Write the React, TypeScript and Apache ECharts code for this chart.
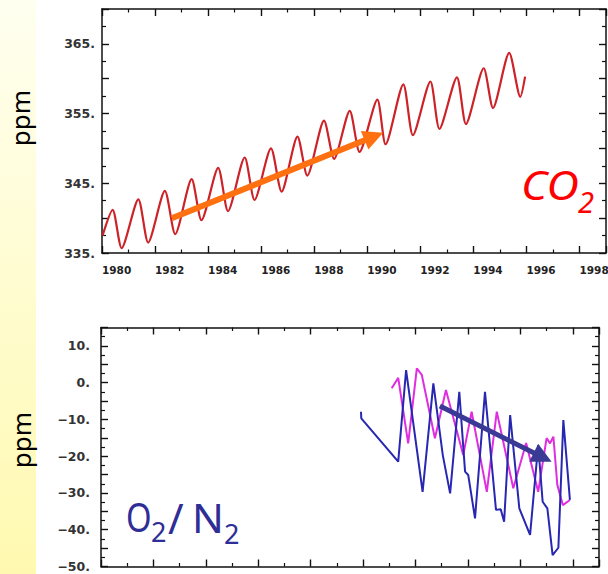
import React, { useEffect, useRef } from 'react';
import * as echarts from 'echarts';

// Monthly-extreme readings of the CO2 record (decimal year, ppm)
const co2Years = [
  1980.02, 1980.4, 1980.74, 1981.37, 1981.74, 1982.37, 1982.76, 1983.38, 1983.75,
  1984.38, 1984.75, 1985.38, 1985.75, 1986.37, 1986.77, 1987.37, 1987.74, 1988.37,
  1988.75, 1989.34, 1989.71, 1990.38, 1990.69, 1991.36, 1991.72, 1992.38, 1992.72,
  1993.38, 1993.72, 1994.39, 1994.74, 1995.35, 1995.77, 1995.95,
];
const co2Ppm = [
  337.5, 341.2, 335.7, 342.7, 336.5, 343.9, 337.7, 345.6, 339.7,
  347.2, 341.0, 348.7, 342.6, 350.0, 343.8, 351.7, 346.1, 354.0,
  348.5, 355.4, 349.5, 357.0, 350.6, 359.2, 351.9, 359.6, 352.8,
  360.2, 353.5, 361.5, 355.8, 363.7, 357.4, 360.3,
];

// O2/N2 record, first station (decimal year, value)
const o2YearsA = [
  1989.92, 1989.93, 1991.34, 1991.64, 1992.27, 1992.68, 1993.04, 1993.32, 1993.67,
  1993.89, 1994.01, 1994.27, 1994.65, 1995.07, 1995.25, 1995.38, 1995.61, 1995.96,
  1996.37, 1996.68, 1996.85, 1997.03, 1997.23, 1997.45, 1997.64, 1997.89,
];
const o2ValuesA = [
  -7.9, -9.7, -21.5, 3.4, -29.7, -0.2, -19.7, -30.1, -2.5,
  -24.2, -25.1, -36.9, -2.5, -34.6, -34.4, -37.8, -8.8, -34.2,
  -41.4, -17.0, -32.4, -34.2, -46.9, -44.9, -10.2, -31.9,
];

// O2/N2 record, second station
const o2YearsB = [
  1991.09, 1991.34, 1991.72, 1992.05, 1992.24, 1992.74, 1993.16, 1993.82, 1994.14,
  1994.72, 1995.1, 1995.73, 1996.22, 1996.68, 1997.0, 1997.13, 1997.26, 1997.41,
  1997.62, 1997.89,
];
const o2ValuesB = [
  -1.5, 1.3, -16.5, 3.9, 2.1, -15.1, -2.0, -19.7, -7.9,
  -29.7, -7.9, -28.7, -16.4, -29.7, -15.1, -16.5, -14.7, -27.8,
  -33.3, -31.9,
];

// Trend arrows (start, end) in data units
const co2TrendStart = [1982.63, 339.98];
const co2TrendEnd = [1990.25, 351.72];
const o2TrendStart = [1992.93, -6.35];
const o2TrendEnd = [1996.85, -20.28];

// Tick labels
const yearLabels = [1980, 1982, 1984, 1986, 1988, 1990, 1992, 1994, 1996, 1998];
const co2Labels = [335, 345, 355, 365];
const o2Labels = [-50, -40, -30, -20, -10, 0, 10];

const INK = '#111111';

const numLabel = (v: number) => (v < 0 ? '\u2212' + Math.abs(v) + '.' : v + '.');

function yearAxis(gridIndex: number, position: string, withLabels: boolean) {
  return {
    type: 'value',
    gridIndex,
    position,
    min: 1980,
    max: 1999,
    interval: 2,
    axisLine: { show: true, onZero: false, lineStyle: { color: INK, width: 1.5 } },
    axisTick: { show: true, inside: true, length: 7, lineStyle: { color: INK, width: 1.4 } },
    minorTick: { show: true, splitNumber: 2, length: 3.5, lineStyle: { color: INK, width: 1.2 } },
    splitLine: { show: false },
    minorSplitLine: { show: false },
    axisLabel: withLabels
      ? {
          show: true,
          align: 'left',
          margin: 11,
          fontFamily: 'DejaVu Sans',
          fontWeight: 'bold',
          fontSize: 10.5,
          color: '#222',
          hideOverlap: false,
          formatter: (v: number) => (yearLabels.includes(v) ? String(v) : ''),
        }
      : { show: false },
  };
}

function valueAxis(
  gridIndex: number,
  position: string,
  min: number,
  max: number,
  labels: number[] | null,
  margin: number
) {
  return {
    type: 'value',
    gridIndex,
    position,
    min,
    max,
    interval: 5,
    axisLine: { show: true, onZero: false, lineStyle: { color: INK, width: 1.5 } },
    axisTick: { show: true, inside: true, length: 7, lineStyle: { color: INK, width: 1.4 } },
    minorTick: { show: true, splitNumber: 2, length: 4, lineStyle: { color: INK, width: 1.2 } },
    splitLine: { show: false },
    minorSplitLine: { show: false },
    axisLabel: labels
      ? {
          show: true,
          margin,
          fontFamily: 'DejaVu Sans',
          fontWeight: 'bold',
          fontSize: 12.5,
          color: '#333',
          formatter: (v: number) => (labels.includes(v) ? numLabel(v) : ''),
        }
      : { show: false },
  };
}

function trendArrow(start: number[], end: number[], color: string, width: number) {
  return {
    silent: true,
    animation: false,
    symbol: ['none', 'triangle'],
    symbolSize: 20,
    label: { show: false },
    emphasis: { disabled: true },
    lineStyle: { color, width, type: 'solid', opacity: 1 },
    itemStyle: { color },
    data: [[{ coord: start }, { coord: end }]],
  };
}

function txt(
  text: string,
  x: number,
  y: number,
  size: number,
  color: string,
  extra: Record<string, unknown> = {},
  styleExtra: Record<string, unknown> = {}
) {
  return {
    type: 'text',
    x,
    y,
    z: 20,
    silent: true,
    ...extra,
    style: {
      text,
      fill: color,
      fontSize: size,
      fontFamily: 'Noto Sans',
      align: 'left',
      verticalAlign: 'middle',
      ...styleExtra,
    },
  };
}

export default function App() {
  const ref = useRef<HTMLDivElement>(null);

  useEffect(() => {
    if (!ref.current) return;
    const chart = echarts.init(ref.current, null, { renderer: 'svg' });

    const option = {
      animation: false,
      backgroundColor: '#ffffff',
      grid: [
        { left: 102, top: 9, width: 504, height: 244, containLabel: false, outerBoundsMode: 'none' },
        { left: 101, top: 327.5, width: 498, height: 239, containLabel: false, outerBoundsMode: 'none' },
      ],
      xAxis: [
        yearAxis(0, 'bottom', true),
        yearAxis(0, 'top', false),
        yearAxis(1, 'bottom', false),
        yearAxis(1, 'top', false),
      ],
      yAxis: [
        valueAxis(0, 'left', 335, 370, co2Labels, 7),
        valueAxis(0, 'right', 335, 370, null, 0),
        valueAxis(1, 'left', -50, 15, o2Labels, 11),
        valueAxis(1, 'right', -50, 15, null, 0),
      ],
      series: [
        {
          name: 'CO2',
          type: 'line',
          xAxisIndex: 0,
          yAxisIndex: 0,
          data: co2Years.map((y, i) => [y, co2Ppm[i]]),
          smooth: 0.25,
          symbol: 'none',
          showSymbol: false,
          lineStyle: { color: '#cc2228', width: 2.2 },
          z: 3,
          markLine: trendArrow(co2TrendStart, co2TrendEnd, '#ff7010', 6),
        },
        {
          name: 'O2/N2 B',
          type: 'line',
          xAxisIndex: 2,
          yAxisIndex: 2,
          data: o2YearsB.map((y, i) => [y, o2ValuesB[i]]),
          symbol: 'none',
          showSymbol: false,
          lineStyle: { color: '#e02de0', width: 2 },
          z: 3,
        },
        {
          name: 'O2/N2 A',
          type: 'line',
          xAxisIndex: 2,
          yAxisIndex: 2,
          data: o2YearsA.map((y, i) => [y, o2ValuesA[i]]),
          symbol: 'none',
          showSymbol: false,
          lineStyle: { color: '#2727b2', width: 2 },
          z: 4,
          markLine: trendArrow(o2TrendStart, o2TrendEnd, '#3a3a96', 5),
        },
      ],
      graphic: [
        {
          type: 'rect',
          silent: true,
          z: -10,
          shape: { x: 0, y: 0, width: 36, height: 574 },
          style: {
            fill: new echarts.graphic.LinearGradient(0, 0, 0, 1, [
              { offset: 0, color: '#fffff0' },
              { offset: 1, color: '#fff9b0' },
            ]),
          },
        },
        txt('ppm', 20, 118, 26, '#000', { rotation: Math.PI / 2 }, { align: 'center' }),
        txt('ppm', 21, 440, 26, '#000', { rotation: Math.PI / 2 }, { align: 'center' }),
        txt('CO', 521, 184, 40, '#ff0000', { scaleX: 1.12 }, { fontStyle: 'italic' }),
        txt('2', 578, 201, 29, '#ff0000', {}, { fontStyle: 'italic' }),
        txt('O', 126, 517, 40, '#2e2e96', { scaleX: 0.82 }),
        txt('2', 151, 531, 27, '#2e2e96'),
        txt('/', 168, 517, 42, '#2e2e96'),
        txt('N', 192, 517, 40, '#2e2e96', { scaleX: 1.05 }),
        txt('2', 224, 533, 27, '#2e2e96'),
      ],
    };

    chart.setOption(option as any);
    return () => chart.dispose();
  }, []);

  return (
    <div
      ref={ref}
      style={{ position: 'absolute', left: 0, top: 0, width: 608, height: 574 }}
    />
  );
}
